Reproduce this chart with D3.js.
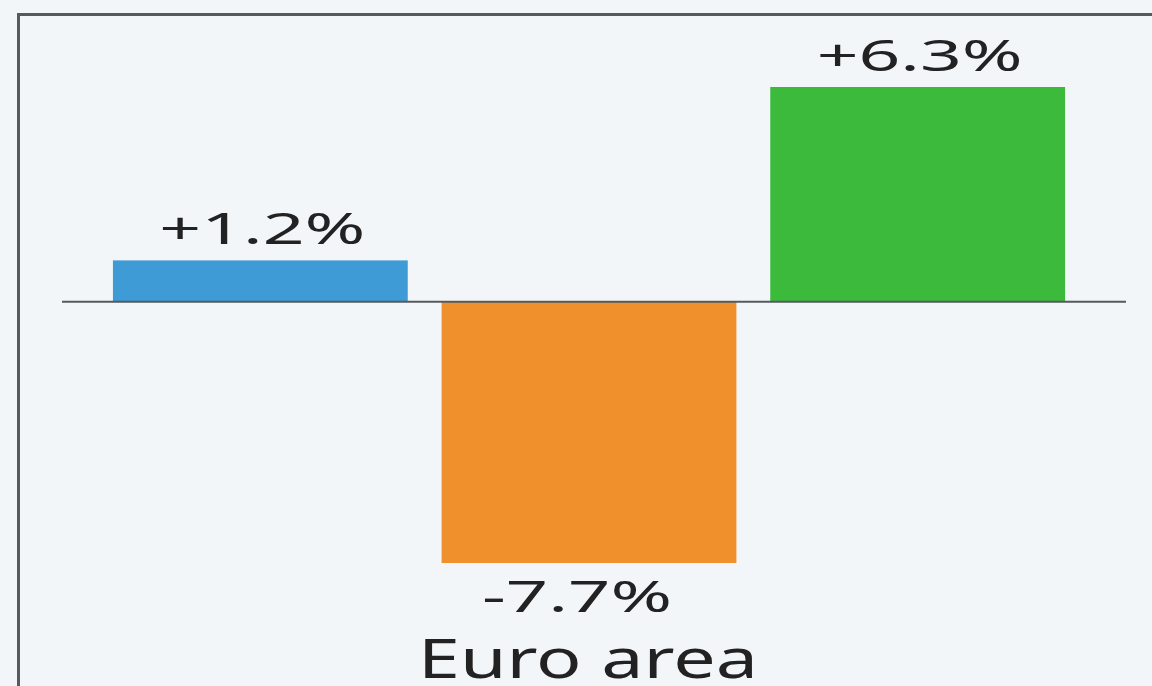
<!DOCTYPE html>
<html>
<head>
<meta charset="utf-8">
<script src="https://cdn.jsdelivr.net/npm/d3@7"></script>
<style>
  html, body { margin: 0; padding: 0; background: #f3f6f9; }
  svg { display: block; }
</style>
</head>
<body>
<div id="chart"></div>
<script>
// data
var categories = ["a", "b", "c"];
var values = [1.2, -7.7, 6.3];
var valueLabels = ["+1.2%", "-7.7%", "+6.3%"];
var colors = ["#3f9bd5", "#f0902c", "#3cba3c"];
var groupLabel = "Euro area";

var w = 1152, h = 686;

var svg = d3.select("#chart").append("svg")
    .attr("width", w).attr("height", h);

svg.append("rect").attr("width", w).attr("height", h).attr("fill", "#f3f6f9");

// frame (top + left edges visible)
svg.append("path")
    .attr("d", "M18.5," + (h + 2) + " V14.5 H" + (w + 2))
    .attr("fill", "none")
    .attr("stroke", "#555a5e")
    .attr("stroke-width", 3);

var x = d3.scaleBand()
    .domain(categories)
    .range([96, 1082])
    .paddingInner(0.103)
    .paddingOuter(0.0515);

var y = d3.scaleLinear()
    .domain([-7.7, 6.3])
    .range([563, 87]);

var g = svg.append("g");

g.selectAll(".bar")
    .data(values)
  .enter().append("rect")
    .attr("class", "bar")
    .attr("x", function(d, i) { return x(categories[i]); })
    .attr("width", x.bandwidth())
    .attr("y", function(d) { return y(Math.max(0, d)); })
    .attr("height", function(d) { return Math.abs(y(d) - y(0)); })
    .attr("fill", function(d, i) { return colors[i]; });

// zero line
g.append("line")
    .attr("x1", 62).attr("x2", 1126)
    .attr("y1", y(0) + 0.5).attr("y2", y(0) + 0.5)
    .attr("stroke", "#555a5e")
    .attr("stroke-width", 2);

// value labels
g.selectAll(".val")
    .data(values)
  .enter().append("text")
    .attr("class", "val")
    .attr("x", function(d, i) { return x(categories[i]) + x.bandwidth() / 2 + (d < 0 ? -12 : 2); })
    .attr("y", function(d) { return d >= 0 ? y(d) - 16 : y(d) + 49; })
    .attr("text-anchor", "middle")
    .attr("font-family", "Noto Sans, sans-serif")
    .attr("font-size", 43)
    .attr("fill", "#222")
    .attr("textLength", function(d) { return d < 0 ? 190 : 206; })
    .attr("lengthAdjust", "spacingAndGlyphs")
    .text(function(d, i) { return valueLabels[i]; });

// group label
svg.append("text")
    .attr("x", 588)
    .attr("y", 678)
    .attr("text-anchor", "middle")
    .attr("font-family", "Noto Sans, sans-serif")
    .attr("font-size", 54)
    .attr("fill", "#222")
    .attr("textLength", 340)
    .attr("lengthAdjust", "spacingAndGlyphs")
    .text(groupLabel);
</script>
</body>
</html>
